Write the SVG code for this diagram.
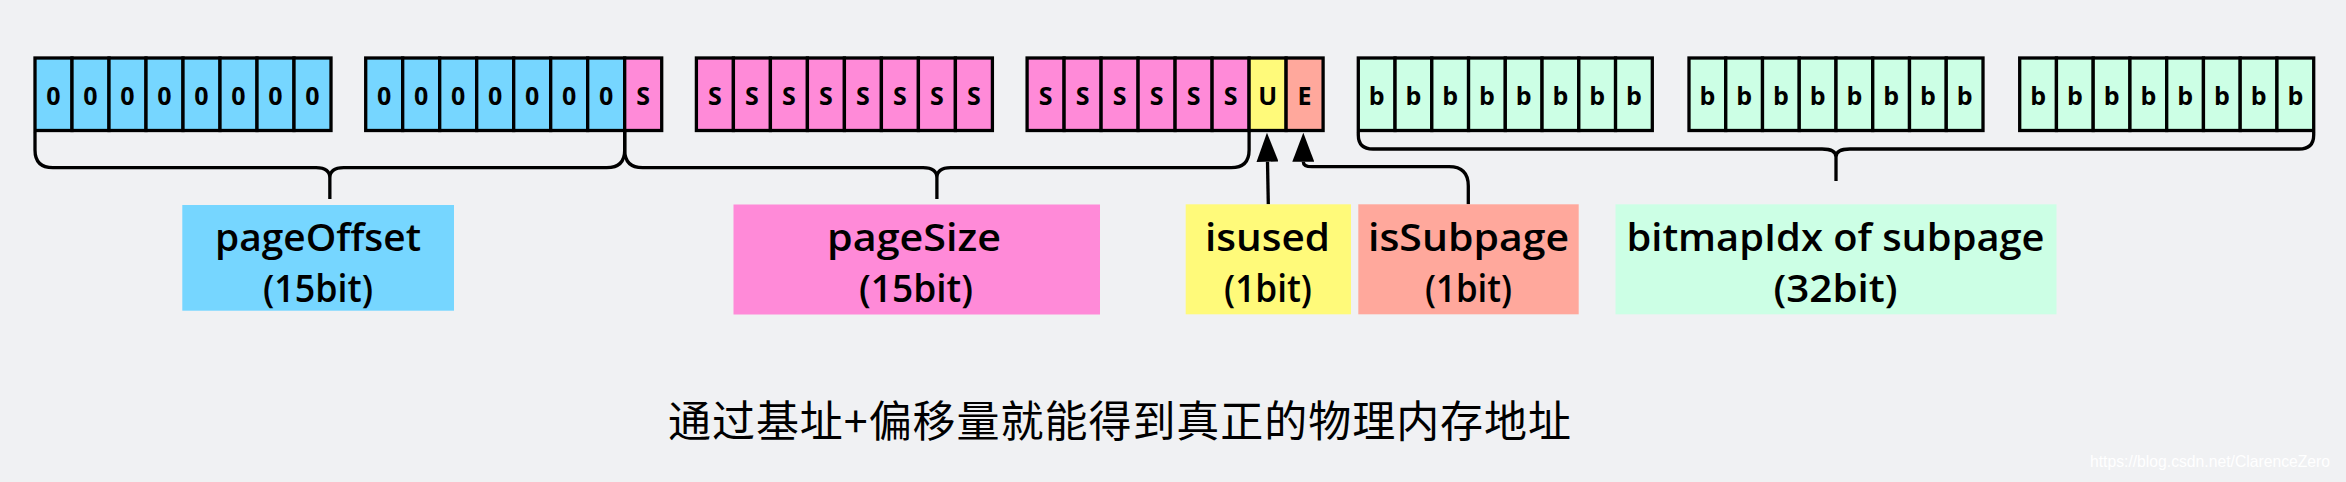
<svg xmlns="http://www.w3.org/2000/svg" width="2346" height="482" viewBox="0 0 2346 482">
<defs>
<style>
.bg{fill:#f0f1f3}
.c{stroke:#000;stroke-width:3.3}
.blue{fill:#76d6ff}
.pink{fill:#ff8ad8}
.yel{fill:#fffa7a}
.sal{fill:#ffa89c}
.grn{fill:#ccffe5}
.ct{font-family:"Open Sans","DejaVu Sans",sans-serif;font-weight:700;font-size:25px;fill:#000;text-anchor:middle}
.lb{font-family:"Open Sans","Noto Sans",sans-serif;font-weight:600;font-size:37px;fill:#000;text-anchor:middle}
.br{fill:none;stroke:#000;stroke-width:3.3}
.cn{fill:none;stroke:#000;stroke-width:3.3}
.cjk{font-family:"Noto Sans CJK SC","Noto Sans",sans-serif;font-size:43px;fill:#000}
.wm{font-family:"Liberation Sans",Arial,sans-serif;font-size:17px;fill:#ffffff}
</style>
<marker id="ah" viewBox="0 0 29 22" refX="0" refY="11" markerWidth="29" markerHeight="22" markerUnits="userSpaceOnUse" orient="auto">
<path d="M0,0 L29,11 L0,22 z" fill="#000"/>
</marker>
</defs>
<rect class="bg" x="0" y="0" width="2346" height="482"/>

<g id="group1">
<rect class="c blue" x="35" y="58" width="37" height="72.5"/>
<rect class="c blue" x="72" y="58" width="37" height="72.5"/>
<rect class="c blue" x="109" y="58" width="37" height="72.5"/>
<rect class="c blue" x="146" y="58" width="37" height="72.5"/>
<rect class="c blue" x="183" y="58" width="37" height="72.5"/>
<rect class="c blue" x="220" y="58" width="37" height="72.5"/>
<rect class="c blue" x="257" y="58" width="37" height="72.5"/>
<rect class="c blue" x="294" y="58" width="37" height="72.5"/>
<text class="ct" x="53.5" y="105">0</text><text class="ct" x="90.5" y="105">0</text><text class="ct" x="127.5" y="105">0</text><text class="ct" x="164.5" y="105">0</text><text class="ct" x="201.5" y="105">0</text><text class="ct" x="238.5" y="105">0</text><text class="ct" x="275.5" y="105">0</text><text class="ct" x="312.5" y="105">0</text>
</g>

<g id="group2">
<rect class="c blue" x="365.7" y="58" width="37" height="72.5"/>
<rect class="c blue" x="402.7" y="58" width="37" height="72.5"/>
<rect class="c blue" x="439.7" y="58" width="37" height="72.5"/>
<rect class="c blue" x="476.7" y="58" width="37" height="72.5"/>
<rect class="c blue" x="513.7" y="58" width="37" height="72.5"/>
<rect class="c blue" x="550.7" y="58" width="37" height="72.5"/>
<rect class="c blue" x="587.7" y="58" width="37" height="72.5"/>
<rect class="c pink" x="624.7" y="58" width="37" height="72.5"/>
<text class="ct" x="384.2" y="105">0</text><text class="ct" x="421.2" y="105">0</text><text class="ct" x="458.2" y="105">0</text><text class="ct" x="495.2" y="105">0</text><text class="ct" x="532.2" y="105">0</text><text class="ct" x="569.2" y="105">0</text><text class="ct" x="606.2" y="105">0</text><text class="ct" x="643.2" y="105">S</text>
</g>

<g id="group3">
<rect class="c pink" x="696.4" y="58" width="37" height="72.5"/>
<rect class="c pink" x="733.4" y="58" width="37" height="72.5"/>
<rect class="c pink" x="770.4" y="58" width="37" height="72.5"/>
<rect class="c pink" x="807.4" y="58" width="37" height="72.5"/>
<rect class="c pink" x="844.4" y="58" width="37" height="72.5"/>
<rect class="c pink" x="881.4" y="58" width="37" height="72.5"/>
<rect class="c pink" x="918.4" y="58" width="37" height="72.5"/>
<rect class="c pink" x="955.4" y="58" width="37" height="72.5"/>
<text class="ct" x="714.9" y="105">S</text><text class="ct" x="751.9" y="105">S</text><text class="ct" x="788.9" y="105">S</text><text class="ct" x="825.9" y="105">S</text><text class="ct" x="862.9" y="105">S</text><text class="ct" x="899.9" y="105">S</text><text class="ct" x="936.9" y="105">S</text><text class="ct" x="973.9" y="105">S</text>
</g>

<g id="group4">
<rect class="c pink" x="1027.1" y="58" width="37" height="72.5"/>
<rect class="c pink" x="1064.1" y="58" width="37" height="72.5"/>
<rect class="c pink" x="1101.1" y="58" width="37" height="72.5"/>
<rect class="c pink" x="1138.1" y="58" width="37" height="72.5"/>
<rect class="c pink" x="1175.1" y="58" width="37" height="72.5"/>
<rect class="c pink" x="1212.1" y="58" width="37" height="72.5"/>
<rect class="c yel" x="1249.1" y="58" width="37" height="72.5"/>
<rect class="c sal" x="1286.1" y="58" width="37" height="72.5"/>
<text class="ct" x="1045.6" y="105">S</text><text class="ct" x="1082.6" y="105">S</text><text class="ct" x="1119.6" y="105">S</text><text class="ct" x="1156.6" y="105">S</text><text class="ct" x="1193.6" y="105">S</text><text class="ct" x="1230.6" y="105">S</text><text class="ct" x="1267.6" y="105">U</text><text class="ct" x="1304.6" y="105">E</text>
</g>

<g id="group5">
<rect class="c grn" x="1358.3" y="58" width="36.75" height="72.5"/>
<rect class="c grn" x="1395.05" y="58" width="36.75" height="72.5"/>
<rect class="c grn" x="1431.8" y="58" width="36.75" height="72.5"/>
<rect class="c grn" x="1468.55" y="58" width="36.75" height="72.5"/>
<rect class="c grn" x="1505.3" y="58" width="36.75" height="72.5"/>
<rect class="c grn" x="1542.05" y="58" width="36.75" height="72.5"/>
<rect class="c grn" x="1578.8" y="58" width="36.75" height="72.5"/>
<rect class="c grn" x="1615.55" y="58" width="36.75" height="72.5"/>
<text class="ct" x="1376.7" y="105">b</text><text class="ct" x="1413.4" y="105">b</text><text class="ct" x="1450.2" y="105">b</text><text class="ct" x="1486.9" y="105">b</text><text class="ct" x="1523.7" y="105">b</text><text class="ct" x="1560.4" y="105">b</text><text class="ct" x="1597.2" y="105">b</text><text class="ct" x="1633.9" y="105">b</text>
</g>

<g id="group6">
<rect class="c grn" x="1689" y="58" width="36.75" height="72.5"/>
<rect class="c grn" x="1725.75" y="58" width="36.75" height="72.5"/>
<rect class="c grn" x="1762.5" y="58" width="36.75" height="72.5"/>
<rect class="c grn" x="1799.25" y="58" width="36.75" height="72.5"/>
<rect class="c grn" x="1836" y="58" width="36.75" height="72.5"/>
<rect class="c grn" x="1872.75" y="58" width="36.75" height="72.5"/>
<rect class="c grn" x="1909.5" y="58" width="36.75" height="72.5"/>
<rect class="c grn" x="1946.25" y="58" width="36.75" height="72.5"/>
<text class="ct" x="1707.4" y="105">b</text><text class="ct" x="1744.1" y="105">b</text><text class="ct" x="1780.9" y="105">b</text><text class="ct" x="1817.6" y="105">b</text><text class="ct" x="1854.4" y="105">b</text><text class="ct" x="1891.1" y="105">b</text><text class="ct" x="1927.9" y="105">b</text><text class="ct" x="1964.6" y="105">b</text>
</g>

<g id="group7">
<rect class="c grn" x="2019.7" y="58" width="36.75" height="72.5"/>
<rect class="c grn" x="2056.45" y="58" width="36.75" height="72.5"/>
<rect class="c grn" x="2093.2" y="58" width="36.75" height="72.5"/>
<rect class="c grn" x="2129.95" y="58" width="36.75" height="72.5"/>
<rect class="c grn" x="2166.7" y="58" width="36.75" height="72.5"/>
<rect class="c grn" x="2203.45" y="58" width="36.75" height="72.5"/>
<rect class="c grn" x="2240.2" y="58" width="36.75" height="72.5"/>
<rect class="c grn" x="2276.95" y="58" width="36.75" height="72.5"/>
<text class="ct" x="2038.1" y="105">b</text><text class="ct" x="2074.8" y="105">b</text><text class="ct" x="2111.6" y="105">b</text><text class="ct" x="2148.3" y="105">b</text><text class="ct" x="2185.1" y="105">b</text><text class="ct" x="2221.8" y="105">b</text><text class="ct" x="2258.6" y="105">b</text><text class="ct" x="2295.3" y="105">b</text>
</g>

<g id="connectors">
<path class="br" d="M35,132 V150 Q35,167.7 53,167.7 H316 Q329.85,167.7 329.85,178 V199 M624.7,132 V150 Q624.7,167.7 606.7,167.7 H343.7 Q329.85,167.7 329.85,178"/>
<path class="br" d="M624.7,132 V150 Q624.7,167.7 642.7,167.7 H923 Q936.9,167.7 936.9,178 V199 M1249.1,132 V150 Q1249.1,167.7 1231.1,167.7 H950.8 Q936.9,167.7 936.9,178"/>
<path class="br" d="M1358.3,132 V135 Q1358.3,149 1373,149 H1822 Q1836,149 1836,157 V181 M2313.7,132 V135 Q2313.7,149 2299,149 H1850 Q1836,149 1836,157"/>
<path class="cn" d="M1268.3,204.3 L1267.5,161.7" marker-end="url(#ah)"/>
<path class="cn" d="M1468.3,204.3 V186 Q1468.3,166.7 1449,166.7 H1312 Q1303.3,166.7 1303.3,161.7" marker-end="url(#ah)"/>
</g>

<g id="pageOffset">
<rect class="blue" x="182.3" y="205" width="271.7" height="105.7"/>
<text class="lb" x="318" y="251" textLength="206" lengthAdjust="spacingAndGlyphs">pageOffset</text>
<text class="lb" x="318" y="302" textLength="110" lengthAdjust="spacingAndGlyphs">(15bit)</text>
</g>

<g id="pageSize">
<rect class="pink" x="733.5" y="204.5" width="366.5" height="110"/>
<text class="lb" x="914" y="251" textLength="174" lengthAdjust="spacingAndGlyphs">pageSize</text>
<text class="lb" x="916" y="302" textLength="114" lengthAdjust="spacingAndGlyphs">(15bit)</text>
</g>

<g id="isused">
<rect class="yel" x="1185.7" y="204.3" width="165.3" height="110"/>
<text class="lb" x="1267.5" y="251" textLength="125" lengthAdjust="spacingAndGlyphs">isused</text>
<text class="lb" x="1268" y="302" textLength="88" lengthAdjust="spacingAndGlyphs">(1bit)</text>
</g>

<g id="isSubpage">
<rect class="sal" x="1358.3" y="204.3" width="220.4" height="110"/>
<text class="lb" x="1468.5" y="251" textLength="201" lengthAdjust="spacingAndGlyphs">isSubpage</text>
<text class="lb" x="1468.5" y="302" textLength="87" lengthAdjust="spacingAndGlyphs">(1bit)</text>
</g>

<g id="bitmapIdx">
<rect class="grn" x="1615.5" y="204.3" width="441" height="110"/>
<text class="lb" x="1835.5" y="251" textLength="418" lengthAdjust="spacingAndGlyphs">bitmapIdx of subpage</text>
<text class="lb" x="1835.5" y="302" textLength="124" lengthAdjust="spacingAndGlyphs">(32bit)</text>
</g>

<g id="caption">
<text class="cjk" x="668" y="437" textLength="903" lengthAdjust="spacing">通过基址+偏移量就能得到真正的物理内存地址</text>
</g>

<g id="watermark">
<text class="wm" x="2090" y="467" textLength="240" lengthAdjust="spacingAndGlyphs">https://blog.csdn.net/ClarenceZero</text>
</g>
</svg>
